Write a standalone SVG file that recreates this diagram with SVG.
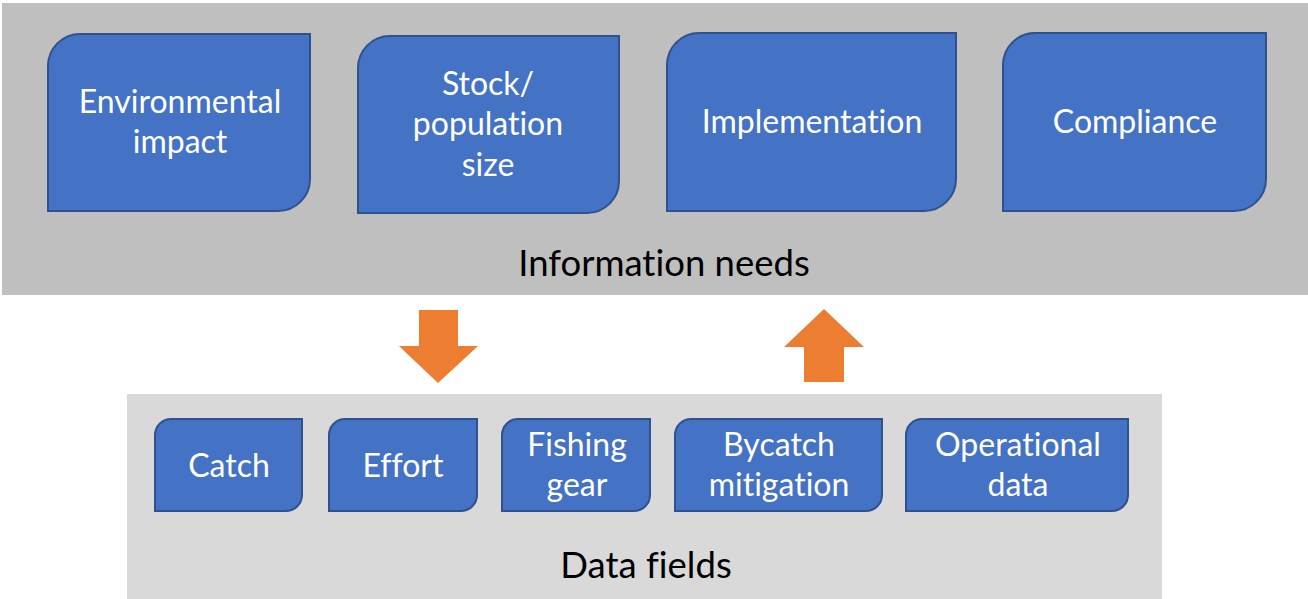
<svg xmlns="http://www.w3.org/2000/svg" width="1308" height="599" viewBox="0 0 1308 599">
  <style>
    text { font-variant-ligatures: none; font-feature-settings: "liga" 0, "clig" 0; }
    .box { fill: #4472c4; stroke: #2f528f; stroke-width: 2; }
    .lbl { font-family: Lato, "Open Sans", sans-serif; font-size: 32px; fill: #ffffff; text-anchor: middle; }
    .title { font-family: Lato, "Open Sans", sans-serif; font-size: 36.5px; fill: #000000; text-anchor: middle; }
    .arrow { fill: #ed7d31; }
  </style>

  <!-- background panels -->
  <rect id="info-panel" x="2" y="3" width="1306" height="292" fill="#bfbfbf"/>
  <rect id="data-panel" x="127" y="394" width="1035" height="205" fill="#d9d9d9"/>

  <!-- information needs (round-diagonal-corner boxes) -->
  <g id="env-impact">
    <path class="box" d="M80 34 H310 V179 A32 32 0 0 1 278 211 H48 V66 A32 32 0 0 1 80 34 Z"/>
    <text class="lbl" x="180" y="113">Environmental</text>
    <text class="lbl" x="180" y="153">impact</text>
  </g>
  <g id="stock-size">
    <path class="box" d="M390 36 H619 V181 A32 32 0 0 1 587 213 H358 V68 A32 32 0 0 1 390 36 Z"/>
    <text class="lbl" x="488" y="95">Stock/</text>
    <text class="lbl" x="488" y="135">population</text>
    <text class="lbl" x="488" y="176">size</text>
  </g>
  <g id="implementation">
    <path class="box" d="M699 33 H956 V179 A32 32 0 0 1 924 211 H667 V65 A32 32 0 0 1 699 33 Z"/>
    <text class="lbl" x="812" y="133">Implementation</text>
  </g>
  <g id="compliance">
    <path class="box" d="M1035 33 H1266 V179 A32 32 0 0 1 1234 211 H1003 V65 A32 32 0 0 1 1035 33 Z"/>
    <text class="lbl" x="1135" y="133">Compliance</text>
  </g>
  <g id="info-needs-title">
    <text class="title" x="664" y="276">Information needs</text>
  </g>

  <!-- data fields -->
  <g id="catch">
    <path class="box" d="M171 419 H302 V495 A16 16 0 0 1 286 511 H155 V435 A16 16 0 0 1 171 419 Z"/>
    <text class="lbl" x="229" y="477">Catch</text>
  </g>
  <g id="effort">
    <path class="box" d="M345 419 H477 V495 A16 16 0 0 1 461 511 H329 V435 A16 16 0 0 1 345 419 Z"/>
    <text class="lbl" x="403" y="477">Effort</text>
  </g>
  <g id="fishing-gear">
    <path class="box" d="M518 419 H650 V495 A16 16 0 0 1 634 511 H502 V435 A16 16 0 0 1 518 419 Z"/>
    <text class="lbl" x="577" y="456">Fishing</text>
    <text class="lbl" x="577" y="496">gear</text>
  </g>
  <g id="bycatch">
    <path class="box" d="M691 419 H882 V495 A16 16 0 0 1 866 511 H675 V435 A16 16 0 0 1 691 419 Z"/>
    <text class="lbl" x="779" y="456">Bycatch</text>
    <text class="lbl" x="779" y="496">mitigation</text>
  </g>
  <g id="operational">
    <path class="box" d="M922 419 H1128 V495 A16 16 0 0 1 1112 511 H906 V435 A16 16 0 0 1 922 419 Z"/>
    <text class="lbl" x="1018" y="456">Operational</text>
    <text class="lbl" x="1018" y="496">data</text>
  </g>
  <g id="data-fields-title">
    <text class="title" x="646" y="578">Data fields</text>
  </g>

  <!-- block arrows between the two panels -->
  <g id="connectors">
    <polygon class="arrow" points="419,310 458,310 458,346 478,346 438,383 399,346 419,346"/>
    <polygon class="arrow" points="824,309 864,347 844,347 844,382 804,382 804,347 784,347"/>
  </g>
</svg>
